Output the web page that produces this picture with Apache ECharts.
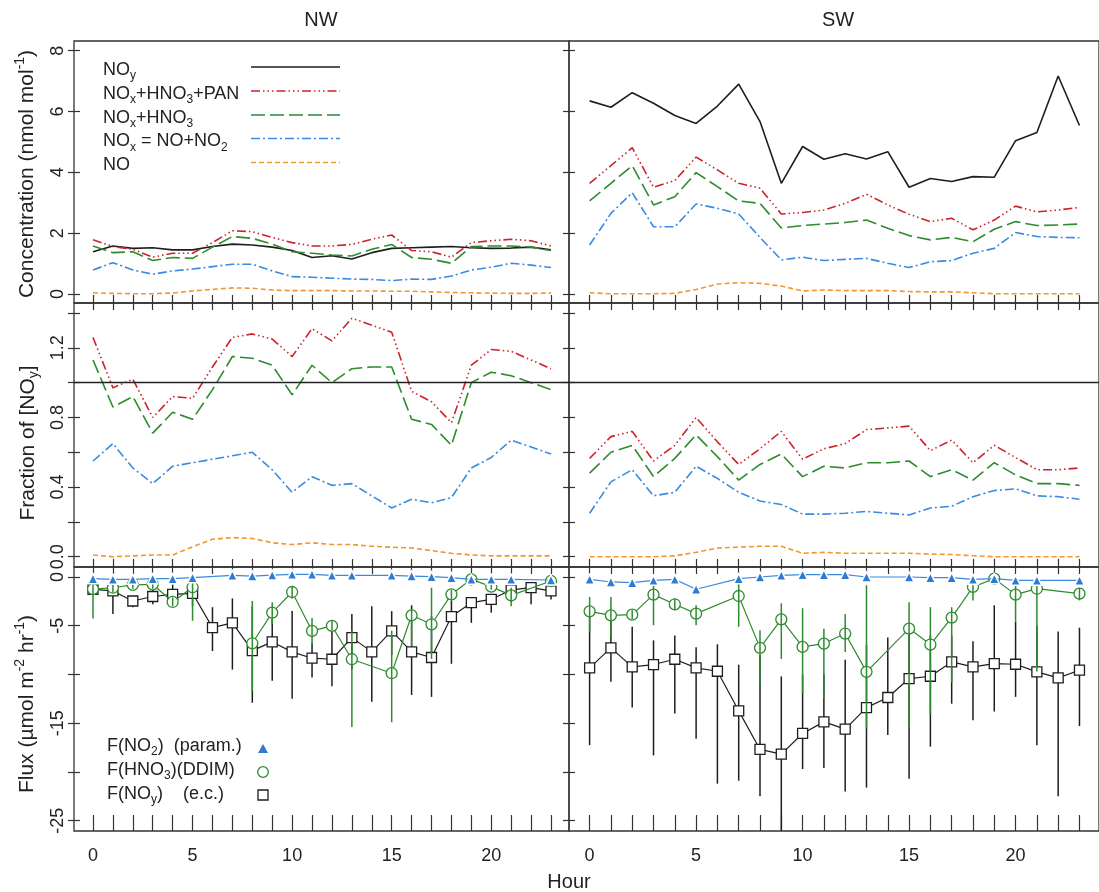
<!DOCTYPE html>
<html><head><meta charset="utf-8">
<script src="https://cdn.jsdelivr.net/npm/echarts@6/dist/echarts.min.js"></script>
<style>html,body{margin:0;padding:0;background:#fff}#c{width:1099px;height:892px}</style>
</head><body><div id="c"></div>
<script>
// ---------------- DATA ----------------
const hours = [0,1,2,3,4,5,6,7,8,9,10,11,12,13,14,15,16,17,18,19,20,21,22,23];
const xLabels = [0,5,10,15,20];

// Concentrations (nmol mol-1)
const nwNOy        = [1.39,1.58,1.50,1.52,1.45,1.45,1.56,1.64,1.61,1.54,1.43,1.20,1.26,1.15,1.36,1.50,1.52,1.54,1.56,1.52,1.50,1.51,1.54,1.45];
const nwNOxHNO3PAN = [1.78,1.56,1.47,1.21,1.34,1.34,1.69,2.08,2.05,1.86,1.69,1.58,1.58,1.63,1.80,1.94,1.43,1.39,1.21,1.69,1.75,1.80,1.75,1.58];
const nwNOxHNO3    = [1.58,1.36,1.39,1.10,1.20,1.17,1.54,1.89,1.83,1.64,1.39,1.34,1.28,1.25,1.47,1.63,1.20,1.14,1.01,1.56,1.58,1.58,1.54,1.43];
const nwNOx        = [0.79,1.03,0.79,0.65,0.76,0.82,0.90,0.98,0.98,0.76,0.57,0.55,0.52,0.49,0.48,0.44,0.49,0.48,0.59,0.79,0.88,1.01,0.95,0.87];
const nwNO         = [0.04,0.02,0.01,0.01,0.03,0.10,0.15,0.20,0.19,0.13,0.11,0.11,0.11,0.10,0.10,0.09,0.09,0.07,0.05,0.04,0.03,0.02,0.02,0.03];

const swNOy        = [6.35,6.14,6.62,6.27,5.87,5.61,6.18,6.90,5.67,3.64,4.85,4.43,4.61,4.44,4.68,3.51,3.80,3.70,3.86,3.84,5.04,5.31,7.17,5.54];
const swNOxHNO3PAN = [3.64,4.22,4.81,3.51,3.73,4.50,4.08,3.64,3.48,2.63,2.68,2.76,2.98,3.28,2.93,2.62,2.38,2.49,2.11,2.43,2.89,2.70,2.76,2.85];
const swNOxHNO3    = [3.06,3.64,4.22,2.93,3.20,3.99,3.53,3.06,2.98,2.17,2.25,2.30,2.35,2.43,2.16,1.92,1.78,1.86,1.72,2.13,2.38,2.25,2.27,2.30];
const swNOx        = [1.61,2.65,3.33,2.21,2.21,2.96,2.82,2.63,1.86,1.12,1.21,1.10,1.14,1.17,1.01,0.87,1.06,1.10,1.34,1.50,2.02,1.89,1.86,1.85];
const swNO         = [0.04,0.01,0.01,0.01,0.02,0.15,0.33,0.37,0.35,0.26,0.10,0.13,0.11,0.11,0.11,0.08,0.07,0.07,0.04,0.01,0.01,0.01,0.01,0.01];

// Fractions of [NOy]
const nwFracPAN  = [1.26,0.97,1.02,0.80,0.92,0.91,1.09,1.26,1.28,1.25,1.15,1.31,1.24,1.37,1.33,1.29,0.95,0.89,0.77,1.10,1.19,1.18,1.13,1.08];
const nwFracHNO3 = [1.13,0.86,0.92,0.71,0.83,0.79,0.96,1.15,1.14,1.10,0.93,1.10,1.00,1.08,1.09,1.09,0.79,0.76,0.64,1.00,1.06,1.04,1.00,0.96];
const nwFracNOx  = [0.55,0.65,0.51,0.42,0.52,0.54,0.56,0.58,0.60,0.50,0.37,0.46,0.41,0.42,0.35,0.28,0.33,0.31,0.34,0.51,0.57,0.67,0.63,0.59];
const nwFracNO   = [0.01,0.00,0.005,0.01,0.01,0.057,0.10,0.11,0.105,0.08,0.07,0.08,0.07,0.07,0.06,0.055,0.05,0.035,0.02,0.01,0.005,0.005,0.005,0.005];

const swFracPAN  = [0.565,0.69,0.72,0.55,0.64,0.80,0.66,0.53,0.62,0.72,0.56,0.62,0.65,0.73,0.74,0.75,0.61,0.67,0.54,0.64,0.57,0.50,0.50,0.51];
const swFracHNO3 = [0.48,0.60,0.64,0.46,0.565,0.70,0.575,0.44,0.53,0.59,0.46,0.52,0.51,0.54,0.54,0.55,0.46,0.50,0.44,0.54,0.47,0.42,0.42,0.41];
const swFracNOx  = [0.25,0.43,0.50,0.35,0.37,0.52,0.45,0.37,0.32,0.30,0.245,0.245,0.25,0.26,0.25,0.24,0.28,0.29,0.345,0.38,0.39,0.35,0.345,0.33];
const swFracNO   = [0,0,0,0,0.005,0.025,0.05,0.055,0.06,0.06,0.02,0.025,0.02,0.02,0.02,0.02,0.015,0.013,0.006,0,0,0,0,0];

// Fluxes (umol m-2 hr-1)
const nwFNO2   = [-0.17,-0.24,-0.24,-0.17,-0.17,-0.07,null,0.17,0.10,0.20,0.27,0.27,0.17,0.17,null,0.17,0.10,0.03,-0.07,-0.24,-0.24,-0.24,null,-0.31];
const nwFHNO3  = [-1.25,-1.10,-0.80,-0.75,-2.56,-1.05,null,null,-6.80,-3.65,-1.54,-5.53,-5.02,-8.44,null,-9.87,-3.93,-4.85,-1.78,-0.24,-0.99,-1.88,null,-0.41];
const nwHNO3Hi = [-0.24,-0.7,-0.5,-0.5,-2.1,-0.58,null,null,-2.46,-2.6,-1.0,-4.2,-4.5,-5.5,null,-5.5,-3.3,-1.1,-1.3,-0.1,-0.7,-1.1,null,-0.2];
const nwHNO3Lo = [-4.27,-1.6,-1.2,-1.2,-3.0,-4.5,null,null,-11.7,-4.85,-2.2,-6.9,-5.5,-15.4,null,-14.9,-7.1,-8.4,-2.3,-0.4,-1.3,-3.0,null,-0.7];
const nwHNO3Breaks = [6];
const nwFNOy   = [-1.27,-1.43,-2.46,-2.00,-1.78,-1.67,-5.19,-4.71,-7.55,-6.66,-7.68,-8.33,-8.44,-6.22,-7.68,-5.53,-7.68,-8.26,-4.06,-2.63,-2.29,-1.33,-1.09,-1.43];
const nwNOyHi  = [null,-0.92,-2.1,-1.3,-0.75,-1.0,-3.1,-2.2,-3.0,-4.3,-3.5,-6.8,-5.5,-3.8,-3.0,-3.5,-2.9,-4.0,-2.4,-2.1,-1.8,-0.75,-0.6,-0.24];
const nwNOyLo  = [null,-3.8,-3.1,-2.8,-2.9,-3.0,-7.6,-9.5,-12.9,-10.65,-12.5,-10.3,-11.2,-9.5,-12.8,-8.0,-12.1,-12.3,-8.9,-4.7,-3.65,-2.56,-2.8,-2.3];

const swFNO2   = [-0.24,-0.51,-0.58,-0.34,-0.24,-1.26,null,-0.17,0,0.17,0.24,0.24,0.24,0,null,0,-0.07,-0.07,-0.24,-0.17,-0.34,-0.34,null,-0.34];
const swFHNO3  = [-3.52,-3.93,-3.86,-1.81,-2.80,-3.76,null,-1.95,-7.27,-4.34,-7.17,-6.83,-5.80,-9.73,null,-5.29,-6.93,-4.17,-1.02,-0.17,-1.81,-1.20,null,-1.71];
const swHNO3Hi = [-2.05,-2.05,-3.4,-0.51,-2.2,-2.9,null,-0.5,-5.46,-2.7,-3.2,-5.3,-3.8,-0.85,null,-2.6,-3.1,-3.1,-0.85,-0.1,-0.85,-0.85,null,-1.1];
const swHNO3Lo = [-5.6,-6.15,-4.3,-4.95,-3.4,-4.95,null,-5.1,-11.1,-8.4,-11.95,-12.5,-7.7,-15.5,null,-15.5,-14.0,-10.8,-2.4,-0.3,-4.6,-9.7,null,-2.4];
const swFNOy   = [-9.32,-7.27,-9.22,-8.98,-8.44,-9.32,-9.67,-13.73,-17.69,-18.17,-16.05,-14.86,-15.6,-13.4,-12.36,-10.42,-10.18,-8.71,-9.22,-8.88,-8.95,-9.73,-10.35,-9.56];
const swNOyHi  = [-3.5,-4.0,-5.1,-6.5,-6.0,-7.2,-6.9,-9.0,-8.0,-10.2,-10.0,-10.0,-8.5,-7.0,-6.2,-5.0,-6.0,-6.0,-6.6,-2.9,-4.6,-5.0,-5.6,-5.2];
const swNOyLo  = [-17.25,-10.75,-13.4,-18.3,-14.0,-16.6,-21.2,-20.9,-22.5,-26.1,-19.7,-19.6,-22.0,-21.6,-16.2,-20.7,-17.4,-13.0,-14.7,-13.8,-12.3,-17.25,-22.5,-15.3];

// axis ticks / labels
const concTicks = [0,2,4,6,8];
const fracTicks = [0,0.2,0.4,0.6,0.8,1.0,1.2,1.4];
const fracLabels = [0,0.4,0.8,1.2];
const fluxTicks = [0,-5,-10,-15,-20,-25];
const fluxLabels = [0,-5,-15,-25];

// ---------------- STYLE / LAYOUT ----------------
const FONT = '"Liberation Sans", Arial, Helvetica, sans-serif';
const C = {black:'#1e1e1e', red:'#cc2229', green:'#2e8b2e', blue:'#3a8ae0', orange:'#f4962a', tri:'#2f7bd3', frame:'#333'};
const DASH = {noy:'solid', pan:[9,3,1.5,3,1.5,3,1.5,3], hno3:[14,5], nox:[9,3,2,3], no:[5,3]};

const cols = [{left:74,width:495,min:-0.954,max:23.904},{left:569,width:540,min:-0.968,max:23.917}];
const rows = [
  {top:41,height:262,min:-0.296,max:8.319,ticks:concTicks,labels:concTicks,fmt:v=>String(v)},
  {top:303,height:264,min:-0.059,max:1.4575,ticks:fracTicks,labels:fracLabels,fmt:v=>v.toFixed(1)},
  {top:567,height:264,min:-26.057,max:1.026,ticks:fluxTicks,labels:fluxLabels,fmt:v=>String(v)}
];

const grid=[], xAxis=[], yAxis=[], gx=[], gy=[];
const tickLine = {color:C.frame, width:1.2};
const noLine = {show:false, onZero:false};
rows.forEach((r,ri)=>cols.forEach((c,ci)=>{
  const g = grid.length;
  grid.push({left:c.left, top:r.top, width:c.width, height:r.height, show:true, borderColor:C.frame, borderWidth:1.3, backgroundColor:'transparent'});
  const xb = {type:'value', gridIndex:g, min:c.min, max:c.max, axisLine:noLine, splitLine:{show:false}};
  gx[g] = xAxis.length;
  xAxis.push(Object.assign({}, xb, {position:'bottom',
    axisTick:{show:true, inside:true, length: ri===2?16:8, customValues:hours, lineStyle:tickLine},
    axisLabel:{show: ri===2, customValues:xLabels, margin:16, fontSize:18, fontFamily:FONT, color:'#222'}}));
  if (ri>0) xAxis.push(Object.assign({}, xb, {position:'top',
    axisTick:{show:true, inside:true, length:7, customValues:hours, lineStyle:tickLine}, axisLabel:{show:false}}));
  const yb = {type:'value', gridIndex:g, min:r.min, max:r.max, position:'left', axisLine:noLine, splitLine:{show:false}};
  gy[g] = yAxis.length;
  yAxis.push(Object.assign({}, yb, {
    axisTick:{show:true, inside:false, length:6, customValues:r.ticks, lineStyle:tickLine},
    axisLabel:{show:ci===0, customValues:r.labels, formatter:r.fmt, rotate:90, margin:7, fontSize:18, fontFamily:FONT, color:'#222'}}));
  yAxis.push(Object.assign({}, yb, {
    axisTick:{show:true, inside:true, length:6, customValues:r.ticks, lineStyle:tickLine}, axisLabel:{show:false}}));
}));

function pts(vals, breaks){
  const d=[];
  vals.forEach((v,i)=>{ if(v==null){ if(breaks && breaks.includes(i)) d.push([hours[i], null]); } else d.push([hours[i], v]); });
  return d;
}
function bars(hi, lo){
  const d=[];
  hours.forEach((h,i)=>{ if(hi[i]!=null && lo[i]!=null) d.push([h, hi[i], lo[i]]); });
  return d;
}
const series=[];
function conc(g, vals, color, dash, extra){
  series.push(Object.assign({type:'line', xAxisIndex:gx[g], yAxisIndex:gy[g], data:pts(vals), symbol:'none',
    lineStyle:{color:color, width:1.6, type:dash}, silent:true, z:3}, extra||{}));
}
const oneLine = {markLine:{silent:true, symbol:'none', label:{show:false}, animation:false,
  lineStyle:{color:'#222', width:1.3, type:'solid'}, data:[{yAxis:1}]}};

conc(0, nwNOy, C.black, DASH.noy); conc(0, nwNOxHNO3PAN, C.red, DASH.pan); conc(0, nwNOxHNO3, C.green, DASH.hno3);
conc(0, nwNOx, C.blue, DASH.nox); conc(0, nwNO, C.orange, DASH.no);
conc(1, swNOy, C.black, DASH.noy); conc(1, swNOxHNO3PAN, C.red, DASH.pan); conc(1, swNOxHNO3, C.green, DASH.hno3);
conc(1, swNOx, C.blue, DASH.nox); conc(1, swNO, C.orange, DASH.no);
conc(2, nwFracPAN, C.red, DASH.pan, oneLine); conc(2, nwFracHNO3, C.green, DASH.hno3); conc(2, nwFracNOx, C.blue, DASH.nox); conc(2, nwFracNO, C.orange, DASH.no);
conc(3, swFracPAN, C.red, DASH.pan, oneLine); conc(3, swFracHNO3, C.green, DASH.hno3); conc(3, swFracNOx, C.blue, DASH.nox); conc(3, swFracNO, C.orange, DASH.no);

const barItem = color => (params, api) => {
  const x = api.value(0);
  const a = api.coord([x, api.value(1)]), b = api.coord([x, api.value(2)]);
  return {type:'line', shape:{x1:a[0], y1:a[1], x2:b[0], y2:b[1]}, style:{stroke:color, lineWidth:1.5}};
};
function flux(g, noy, noyHi, noyLo, hno3, hno3Hi, hno3Lo, hno3Breaks, no2){
  const ax = {xAxisIndex:gx[g], yAxisIndex:gy[g], silent:true};
  series.push(Object.assign({type:'custom', renderItem:barItem(C.black), data:bars(noyHi,noyLo), encode:{x:0,y:[1,2]}, clip:true, z:2}, ax));
  series.push(Object.assign({type:'line', data:pts(noy), symbol:'rect', symbolSize:10, showAllSymbol:true,
    itemStyle:{color:'#fff', borderColor:C.black, borderWidth:1.3}, lineStyle:{color:C.black, width:1.2}, z:3}, ax));
  series.push(Object.assign({type:'line', data:pts(hno3, hno3Breaks), symbol:'circle', symbolSize:11, showAllSymbol:true,
    itemStyle:{color:'#fff', borderColor:C.green, borderWidth:1.3}, lineStyle:{color:C.green, width:1.2}, z:4}, ax));
  series.push(Object.assign({type:'custom', renderItem:barItem(C.green), data:bars(hno3Hi,hno3Lo), encode:{x:0,y:[1,2]}, clip:true, z:5}, ax));
  series.push(Object.assign({type:'line', data:pts(no2), symbol:'triangle', symbolSize:10, showAllSymbol:true,
    itemStyle:{color:C.tri, borderColor:'#fff', borderWidth:1.5}, lineStyle:{color:C.blue, width:1.2}, z:6}, ax));
}
flux(4, nwFNOy, nwNOyHi, nwNOyLo, nwFHNO3, nwHNO3Hi, nwHNO3Lo, nwHNO3Breaks, nwFNO2);
flux(5, swFNOy, swNOyHi, swNOyLo, swFHNO3, swHNO3Hi, swHNO3Lo, [], swFNO2);

// ---------------- TEXT / LEGENDS ----------------
const rich = (fs, ss) => ({
  n:{fontSize:fs, fontFamily:FONT, lineHeight:fs+6, fill:'#222', color:'#222'},
  s:{fontSize:ss, fontFamily:FONT, lineHeight:ss+2, verticalAlign:'bottom', fill:'#222', color:'#222'},
  p:{fontSize:ss, fontFamily:FONT, lineHeight:ss+2, verticalAlign:'top', fill:'#222', color:'#222'}
});
const R18 = rich(18,12), R21 = rich(21,14), R20 = rich(20,13);
const graphics = [];
function txt(x, y, text, r, align, rot){
  graphics.push({type:'text', x:x, y:y, z:100, silent:true, rotation:rot||0,
    style:{text:text, rich:r, align:align||'left', verticalAlign:'middle', fill:'#222'}});
}
txt(321, 20, '{n|NW}', R20, 'center');
txt(838, 20, '{n|SW}', R20, 'center');
txt(569, 882, '{n|Hour}', R20, 'center');
txt(27, 174, '{n|Concentration (nmol mol}{p|-1}{n|)}', R21, 'center', Math.PI/2);
txt(28, 443, '{n|Fraction of [NO}{s|y}{n|]}', R21, 'center', Math.PI/2);
txt(27, 704, '{n|Flux (µmol m}{p|-2}{n| hr}{p|-1}{n|)}', R21, 'center', Math.PI/2);

// top legend
const legTop = [
  {t:'{n|NO}{s|y}', c:C.black, d:DASH.noy, y:67},
  {t:'{n|NO}{s|x}{n|+HNO}{s|3}{n|+PAN}', c:C.red, d:DASH.pan, y:91},
  {t:'{n|NO}{s|x}{n|+HNO}{s|3}', c:C.green, d:DASH.hno3, y:115},
  {t:'{n|NO}{s|x}{n| = NO+NO}{s|2}', c:C.blue, d:DASH.nox, y:138.5},
  {t:'{n|NO}', c:C.orange, d:DASH.no, y:162.5}
];
legTop.forEach(l=>{
  txt(103, l.y+3, l.t, R18);
  graphics.push({type:'line', z:100, silent:true, shape:{x1:251, y1:l.y, x2:340, y2:l.y},
    style:{stroke:l.c, lineWidth:1.6, lineDash: l.d==='solid'?null:l.d}});
});
// bottom legend
txt(107, 746, '{n|F(NO}{s|2}{n|)  (param.)}', R18);
txt(107, 770, '{n|F(HNO}{s|3}{n|)(DDIM)}', R18);
txt(107, 794, '{n|F(NO}{s|y}{n|)    (e.c.)}', R18);
graphics.push({type:'polygon', z:100, silent:true, shape:{points:[[258,753],[268,753],[263,744]]}, style:{fill:C.tri}});
graphics.push({type:'circle', z:100, silent:true, shape:{cx:263, cy:772, r:5.3}, style:{fill:'none', stroke:C.green, lineWidth:1.3}});
graphics.push({type:'rect', z:100, silent:true, shape:{x:258, y:790, width:10, height:10}, style:{fill:'none', stroke:C.black, lineWidth:1.3}});

const chart = echarts.init(document.getElementById('c'), null, {renderer:'canvas'});
chart.setOption({
  backgroundColor:'#fff', animation:false,
  grid, xAxis, yAxis, series,
  graphic:{elements:graphics}
});
</script></body></html>
